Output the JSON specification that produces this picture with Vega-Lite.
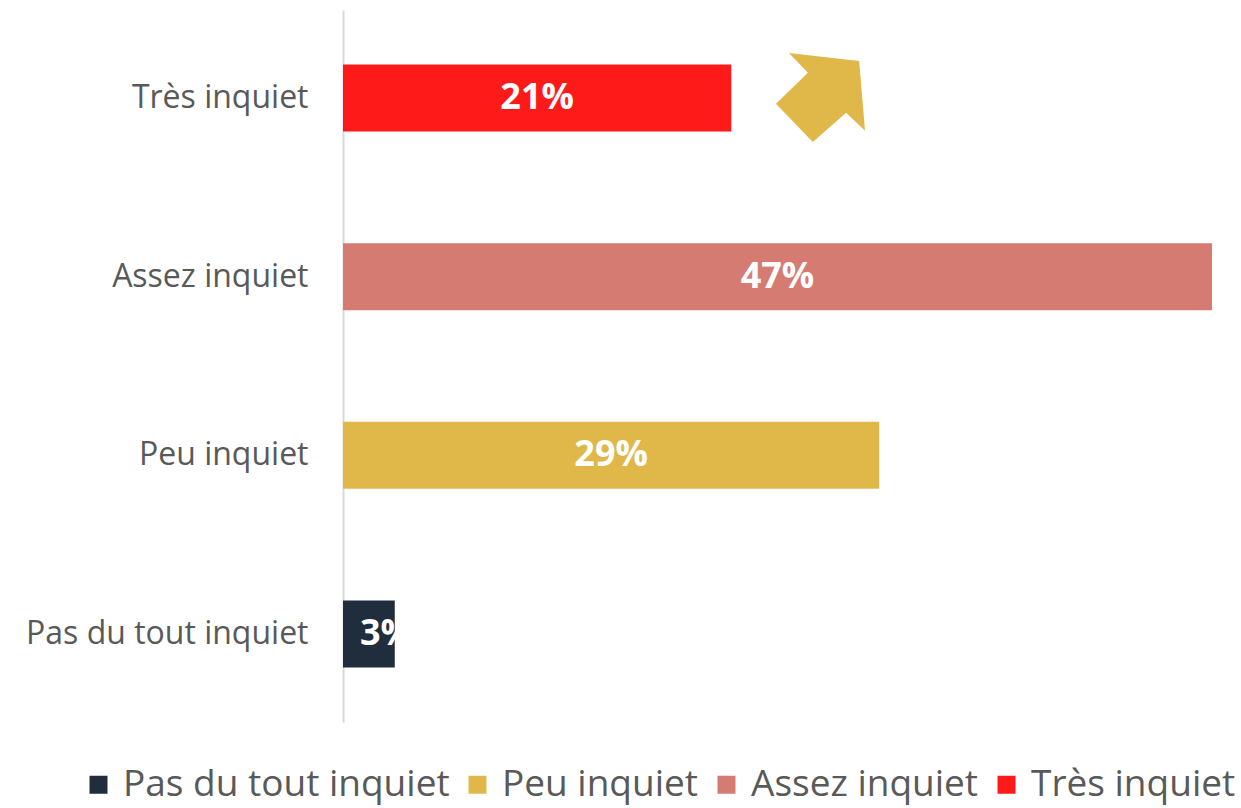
{
  "$schema": "https://vega.github.io/schema/vega-lite/v6.json",
  "width": 869,
  "height": 712,
  "autosize": {"type": "none"},
  "padding": {"left": 343, "top": 10, "right": 29, "bottom": 86},
  "config": {"view": {"stroke": null}, "font": "Open Sans"},
  "datasets": {
    "bars": [
      {"category": "Très inquiet", "value": 21, "label": "21%"},
      {"category": "Assez inquiet", "value": 47, "label": "47%"},
      {"category": "Peu inquiet", "value": 29, "label": "29%"},
      {"category": "Pas du tout inquiet", "value": 2.8, "label": "3%"}
    ],
    "arrow": [
      {"category": "Très inquiet", "value": 25.8}
    ]
  },
  "resolve": {"scale": {"x": "independent"}},
  "layer": [
    {
      "data": {"name": "bars"},
      "mark": {"type": "bar"},
      "encoding": {
        "y": {
          "field": "category", "type": "nominal",
          "sort": ["Très inquiet", "Assez inquiet", "Peu inquiet", "Pas du tout inquiet"],
          "scale": {"paddingInner": 0.625, "paddingOuter": 0.305},
          "axis": {"title": null, "ticks": false, "labelFontSize": 32, "labelColor": "#595959", "labelPadding": 35, "labelLimit": 400, "domainColor": "#D9D9D9", "domainWidth": 2, "grid": false}
        },
        "x": {"field": "value", "type": "quantitative", "scale": {"domain": [0, 47], "nice": false}, "axis": null},
        "color": {
          "field": "category", "type": "nominal",
          "scale": {"domain": ["Pas du tout inquiet", "Peu inquiet", "Assez inquiet", "Très inquiet"], "range": ["#1F2D3D", "#E0B84A", "#D67B72", "#FF1A1A"]},
          "legend": {"title": null, "orient": "none", "legendX": -263, "legendY": 756, "direction": "horizontal", "symbolType": "square", "symbolSize": 324, "symbolStrokeWidth": 0, "labelFontSize": 37, "labelColor": "#595959", "labelOffset": 6, "columnPadding": 9, "labelLimit": 500}
        }
      }
    },
    {
      "data": {"name": "bars"},
      "transform": [{"filter": "datum.value >= 5"}],
      "mark": {"type": "text", "color": "white", "fontWeight": "bold", "fontSize": 36, "align": "center", "baseline": "middle"},
      "encoding": {
        "y": {"field": "category", "type": "nominal", "sort": ["Très inquiet", "Assez inquiet", "Peu inquiet", "Pas du tout inquiet"]},
        "x": {"field": "value", "type": "quantitative", "scale": {"domain": [0, 94], "nice": false}, "axis": null},
        "text": {"field": "label"}
      }
    },
    {
      "data": {"name": "bars"},
      "transform": [{"filter": "datum.value < 5"}],
      "mark": {"type": "text", "color": "white", "fontWeight": "bold", "fontSize": 36, "align": "left", "baseline": "middle", "dx": 17},
      "encoding": {
        "y": {"field": "category", "type": "nominal", "sort": ["Très inquiet", "Assez inquiet", "Peu inquiet", "Pas du tout inquiet"]},
        "x": {"datum": 0, "type": "quantitative", "scale": {"domain": [0, 47], "nice": false}, "axis": null},
        "text": {"field": "label"}
      }
    },
    {
      "data": {"name": "arrow"},
      "mark": {"type": "point", "filled": true, "opacity": 1, "size": 8100, "color": "#E0B84A", "strokeWidth": 0, "shape": "M0.87,-0.82 L-0.69,-1 L-0.27,-0.56 L-0.98,0.13 L-0.16,0.98 L0.58,0.33 L1,0.73 Z"},
      "encoding": {
        "y": {"field": "category", "type": "nominal", "sort": ["Très inquiet", "Assez inquiet", "Peu inquiet", "Pas du tout inquiet"]},
        "x": {"field": "value", "type": "quantitative", "scale": {"domain": [0, 47], "nice": false}, "axis": null}
      }
    }
  ]
}
